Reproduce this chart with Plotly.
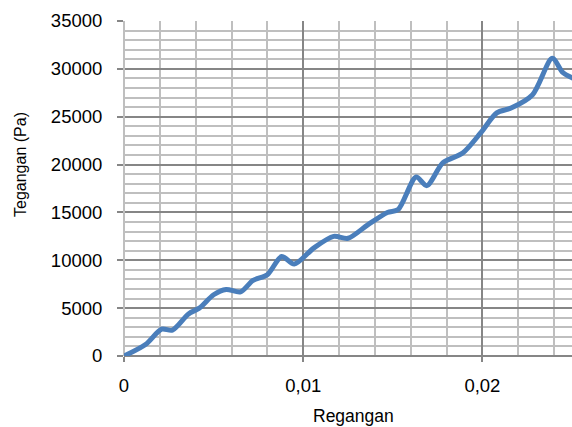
import plotly.graph_objects as go

regangan = [0, 0.0012, 0.0021, 0.0027, 0.0036, 0.0042, 0.0050, 0.0057, 0.0065, 0.0072,
            0.0080, 0.0088, 0.0095, 0.0106, 0.0117, 0.0125, 0.0136, 0.0147, 0.0153, 0.0163,
            0.0169, 0.0178, 0.0189, 0.0199, 0.0208, 0.0216, 0.0228, 0.0239, 0.0245, 0.0252]
tegangan = [0, 1200, 2800, 2700, 4400, 5000, 6400, 6950, 6700, 7900,
            8500, 10400, 9600, 11300, 12500, 12300, 13700, 15000, 15300, 18700,
            17800, 20200, 21200, 23300, 25400, 25900, 27300, 31100, 29600, 28900]

FONT = "Liberation Sans"
MAJOR = "#868686"
MINOR = "#bfbfbf"

W, H = 572, 427
L, R, T, B = 124, 0, 21, 71
PW, PH = W - L - R, H - T - B

fig = go.Figure()
fig.add_trace(go.Scatter(
    x=regangan, y=tegangan, mode="lines",
    line=dict(color="#4a7ebb", width=5, shape="spline", smoothing=0.8),
    showlegend=False,
))

fig.update_layout(
    width=W, height=H,
    margin=dict(l=L, r=R, t=T, b=B, autoexpand=False),
    paper_bgcolor="white", plot_bgcolor="white",
    separators=",.",
    font=dict(family=FONT, size=18.5, color="black"),
)
fig.update_xaxes(
    range=[0, 0.025], dtick=0.01, tick0=0, exponentformat="none",
    showgrid=True, gridcolor=MAJOR, gridwidth=1.5,
    zeroline=True, zerolinecolor=MINOR, zerolinewidth=1.5,
    minor=dict(dtick=0.002, tick0=0, showgrid=True, gridcolor=MINOR, gridwidth=1.5),
    ticks="outside", ticklen=5, tickcolor=MAJOR, tickwidth=1.5,
    ticklabelstandoff=8, automargin=False,
)
fig.update_yaxes(
    range=[0, 35000], dtick=5000, tick0=0, tickformat="d", exponentformat="none",
    showgrid=True, gridcolor=MAJOR, gridwidth=1.5,
    zeroline=True, zerolinecolor=MAJOR, zerolinewidth=1.5,
    minor=dict(dtick=1000, tick0=0, showgrid=True, gridcolor=MINOR, gridwidth=1.5),
    ticks="outside", ticklen=6, tickcolor=MAJOR, tickwidth=1.5,
    ticklabelstandoff=11, automargin=False,
)
fig.add_annotation(
    text="Tegangan (Pa)", textangle=-90, showarrow=False,
    xref="paper", yref="paper", x=(20 - L) / PW, y=(356 - 165) / PH,
    xanchor="center", yanchor="middle", font=dict(size=16),
)
fig.add_annotation(
    text="Regangan", showarrow=False,
    xref="paper", yref="paper", x=(353 - L) / PW, y=(356 - 404) / PH,
    xanchor="center", yanchor="top", font=dict(size=17.5),
)

fig.write_html(
    "out.html",
    config={"displayModeBar": False},
    post_script="document.body.style.margin='0';document.body.style.overflow='hidden';",
)
